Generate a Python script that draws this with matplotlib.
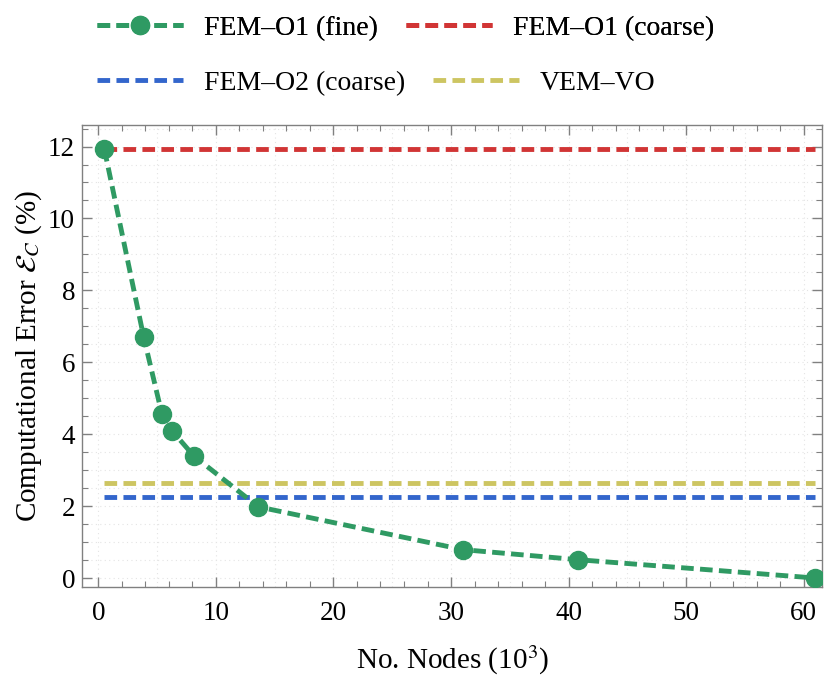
import numpy as np
import matplotlib
matplotlib.use("Agg")
from matplotlib import pyplot as plt
from matplotlib.lines import Line2D
from matplotlib.ticker import MultipleLocator

plt.rcParams['font.family'] = ['Liberation Serif', 'DejaVu Serif']
plt.rcParams['mathtext.fontset'] = 'stix'

# data
nodes = [0.5, 3.85, 5.4, 6.25, 8.1, 13.6, 31.0, 40.8, 61.0]
err_fine = [11.93, 6.70, 4.56, 4.10, 3.40, 1.98, 0.79, 0.51, 0.0]
err_o1_coarse = 11.93
err_o2_coarse = 2.26
err_vem = 2.64
x_span = [0.5, 61.0]

green = '#2f9a63'
red = '#d13535'
blue = '#3366cc'
yellow = '#cdc562'
dash = (2.6, 1.3)
lw = 3.5

fig = plt.figure(figsize=(8.3, 6.81), dpi=100)
ax = fig.add_axes([0.0988, 0.138, 0.892, 0.6785])

for gx in np.arange(0, 65, 5):
    ax.axvline(gx, color='#e4e4e4', lw=0.8, ls=(0, (1, 3)), zorder=0)
for gy in np.arange(0, 12.6, 0.5):
    ax.axhline(gy, color='#e4e4e4', lw=0.8, ls=(0, (1, 3)), zorder=0)

ax.plot(x_span, [err_vem, err_vem], color=yellow, lw=lw, dashes=dash)
ax.plot(x_span, [err_o2_coarse, err_o2_coarse], color=blue, lw=lw, dashes=dash)
ax.plot(x_span, [err_o1_coarse, err_o1_coarse], color=red, lw=lw, dashes=dash)
ax.plot(nodes, err_fine, color=green, lw=lw, dashes=dash, marker='o',
        markersize=13, zorder=5)

ax.set_xlim(-1.4, 61.6)
ax.set_ylim(-0.25, 12.6)
ax.xaxis.set_major_locator(MultipleLocator(10))
ax.xaxis.set_minor_locator(MultipleLocator(2))
ax.yaxis.set_major_locator(MultipleLocator(2))
ax.yaxis.set_minor_locator(MultipleLocator(0.5))
ax.tick_params(which='both', direction='in', top=True, right=True,
               color='#808080', labelsize=19.5)
ax.tick_params(which='major', length=7, width=1)
ax.tick_params(which='minor', length=4, width=0.8)
ax.tick_params(axis='x', pad=10)
ax.tick_params(axis='y', pad=5)
for s in ax.spines.values():
    s.set_color('#808080')
    s.set_linewidth(1)

ax.set_xlabel('No. Nodes (10$^3$)', fontsize=21, labelpad=13)
ax.set_ylabel(r'Computational Error $\mathcal{E}_C$ (%)', fontsize=21, labelpad=3)

h1 = Line2D([], [], color=green, lw=lw, dashes=dash, marker='o', markersize=13)
h2 = Line2D([], [], color=red, lw=lw, dashes=dash)
h3 = Line2D([], [], color=blue, lw=lw, dashes=dash)
h4 = Line2D([], [], color=yellow, lw=lw, dashes=dash)

leg_kw = dict(ncol=2, loc='center left', frameon=False, fontsize=20,
              handlelength=3.1, columnspacing=1.0, handletextpad=0.75)
leg1 = fig.legend([h1, h2], ['FEM–O1 (fine)', 'FEM–O1 (coarse)'],
                  bbox_to_anchor=(0.087, 0.959), **leg_kw)
leg2 = fig.legend([h3, h4], ['FEM–O2 (coarse)', 'VEM–VO'],
                  bbox_to_anchor=(0.087, 0.878), **leg_kw)
fig.add_artist(leg1)

fig.savefig('out.png', dpi=100)
